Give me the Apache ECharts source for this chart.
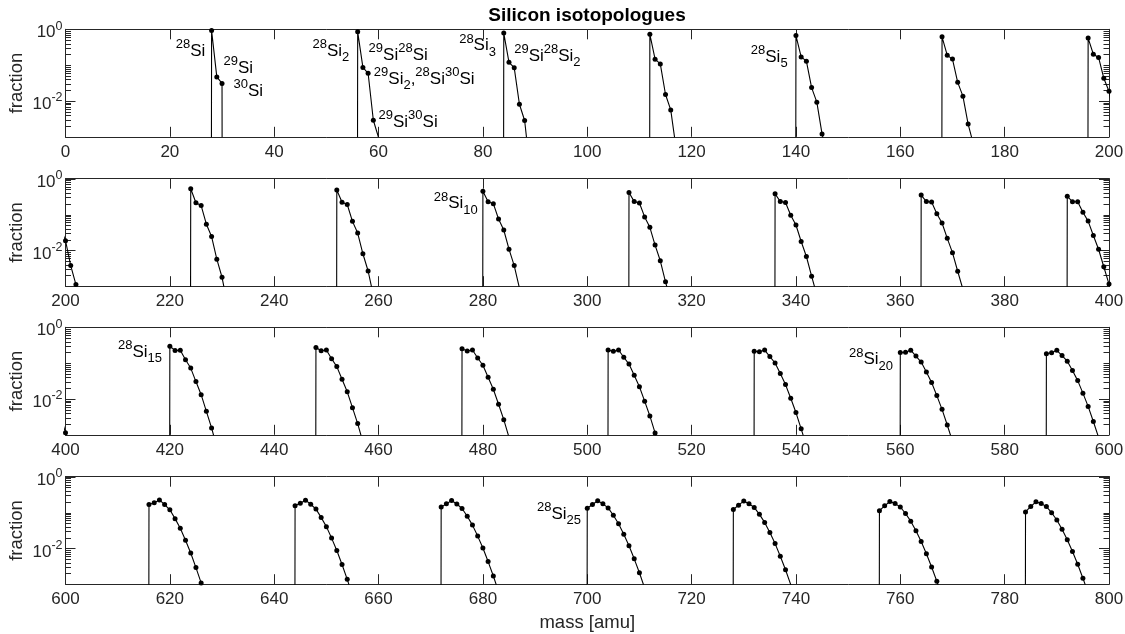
<!DOCTYPE html>
<html>
<head>
<meta charset="utf-8">
<script src="https://cdn.jsdelivr.net/npm/echarts@6/dist/echarts.min.js"></script>
<style>
html,body{margin:0;padding:0;background:#fff;}
#c{width:1125px;height:634px;}
</style>
</head>
<body>
<div id="c"></div>
<script>
// ---------------- data ----------------
// fraction of each isotopologue of Si_n, starting at mass 28*n and stepping 1 amu
const si1  = [0.9222, 0.04685, 0.03092];
const si2  = [0.8505, 0.08641, 0.05923, 0.002897, 0.000956];
const si3  = [0.7844, 0.1195, 0.08497, 0.008118, 0.002849, 0.000134];
const si4  = [0.7234, 0.1470, 0.1082, 0.01516, 0.005635, 0.000508];
const si5  = [0.6671, 0.1694, 0.1290, 0.02360, 0.009253, 0.001202, 0.000310];
const si6  = [0.6152, 0.1875, 0.1476, 0.03305, 0.01363, 0.002271, 0.000629];
const si7  = [0.5674, 0.2018, 0.1639, 0.04319, 0.01868, 0.003755, 0.001107, 0.000170];
const si8  = [0.5233, 0.2127, 0.1782, 0.05375, 0.02432, 0.005674, 0.001775, 0.000325];
const si9  = [0.4826, 0.2206, 0.1904, 0.06449, 0.03045, 0.008034, 0.002655, 0.000558];
const si10 = [0.4450, 0.2261, 0.2009, 0.07522, 0.03700, 0.01083, 0.003766, 0.000887];
const si11 = [0.4104, 0.2293, 0.2096, 0.08577, 0.04385, 0.01405, 0.005125, 0.001330, 0.000377];
const si12 = [0.3785, 0.2307, 0.2168, 0.09601, 0.05094, 0.01766, 0.006740, 0.001901, 0.000569];
const si13 = [0.3491, 0.2305, 0.2224, 0.1058, 0.05818, 0.02164, 0.008619, 0.002615, 0.000822];
const si14 = [0.3219, 0.2290, 0.2267, 0.1152, 0.06549, 0.02596, 0.01076, 0.003484, 0.001147, 0.000311];
const si15 = [0.2969, 0.2262, 0.2298, 0.1239, 0.07280, 0.03057, 0.01317, 0.004520, 0.001554, 0.000449];
const si16 = [0.2738, 0.2225, 0.2317, 0.1320, 0.08005, 0.03543, 0.01583, 0.005730, 0.002052, 0.000626];
const si17 = [0.2525, 0.2181, 0.2325, 0.1395, 0.08717, 0.04051, 0.01873, 0.007122, 0.002650, 0.000851];
const si18 = [0.2329, 0.2129, 0.2325, 0.1463, 0.09412, 0.04576, 0.02187, 0.008698, 0.003357, 0.001129, 0.000367];
const si19 = [0.2148, 0.2073, 0.2316, 0.1524, 0.1008, 0.05113, 0.02522, 0.01046, 0.004179, 0.001468, 0.000495];
const si20 = [0.1981, 0.2012, 0.2299, 0.1578, 0.1073, 0.05659, 0.02877, 0.01241, 0.005124, 0.001873, 0.000654];
const si21 = [0.1827, 0.1949, 0.2276, 0.1625, 0.1135, 0.06209, 0.03250, 0.01454, 0.006196, 0.002351, 0.000850];
const si22 = [0.1684, 0.1883, 0.2247, 0.1666, 0.1193, 0.06760, 0.03639, 0.01685, 0.007401, 0.002908, 0.001085, 0.000370];
const si23 = [0.1553, 0.1815, 0.2212, 0.1700, 0.1248, 0.07309, 0.04042, 0.01934, 0.008740, 0.003549, 0.001366, 0.000482];
const si24 = [0.1433, 0.1747, 0.2173, 0.1727, 0.1299, 0.07850, 0.04456, 0.02199, 0.01022, 0.004281, 0.001696, 0.000619];
const si25 = [0.1321, 0.1678, 0.2130, 0.1749, 0.1346, 0.08382, 0.04878, 0.02479, 0.01183, 0.005106, 0.002081, 0.000782];
const si26 = [0.1218, 0.1609, 0.2084, 0.1764, 0.1389, 0.08901, 0.05308, 0.02774, 0.01358, 0.006030, 0.002524, 0.000977];
const si27 = [0.1124, 0.1541, 0.2035, 0.1774, 0.1428, 0.09405, 0.05741, 0.03082, 0.01546, 0.007055, 0.003030, 0.001206, 0.000454];
const si28 = [0.1036, 0.1474, 0.1984, 0.1779, 0.1463, 0.09891, 0.06177, 0.03402, 0.01748, 0.008184, 0.003603, 0.001472, 0.000569];

const clusters = [si1, si2, si3, si4, si5, si6, si7, si8, si9, si10, si11, si12, si13, si14,
                  si15, si16, si17, si18, si19, si20, si21, si22, si23, si24, si25, si26, si27, si28];
const SI28_MASS = 28;          // nominal mass of 28Si, start of each cluster
const EMPTY = 1e-100;          // zero abundance (a log axis cannot show 0)

const panelRanges = [[0, 200], [200, 400], [400, 600], [600, 800]];
const xTickStep = 20;
const yRange = [0.001, 1];
const yMajorTicks = [0.01, 1];
const yMinorTicks = [0.002, 0.003, 0.004, 0.005, 0.006, 0.007, 0.008, 0.009,
                     0.02, 0.03, 0.04, 0.05, 0.06, 0.07, 0.08, 0.09,
                     0.1, 0.2, 0.3, 0.4, 0.5, 0.6, 0.7, 0.8, 0.9];
const yTickLabels = { '0': '{m|10}{sup|0}', '-2': '{m|10}{sup|-2}' };

const annotations = [
  { panel: 0, mass: 26.9,  fraction: 0.25,   side: 'left',  text: '{sup|28}{m|Si}' },
  { panel: 0, mass: 30.2,  fraction: 0.083,  side: 'right', text: '{sup|29}{m|Si}' },
  { panel: 0, mass: 32.1,  fraction: 0.019,  side: 'right', text: '{sup|30}{m|Si}' },
  { panel: 0, mass: 54.5,  fraction: 0.25,   side: 'left',  text: '{sup|28}{m|Si}{sub|2}' },
  { panel: 0, mass: 58.0,  fraction: 0.19,   side: 'right', text: '{sup|29}{m|Si}{sup|28}{m|Si}' },
  { panel: 0, mass: 59.0,  fraction: 0.040,  side: 'right', text: '{sup|29}{m|Si}{sub|2}{m|,}{sup|28}{m|Si}{sup|30}{m|Si}' },
  { panel: 0, mass: 59.9,  fraction: 0.0026, side: 'right', text: '{sup|29}{m|Si}{sup|30}{m|Si}' },
  { panel: 0, mass: 82.6,  fraction: 0.35,   side: 'left',  text: '{sup|28}{m|Si}{sub|3}' },
  { panel: 0, mass: 85.9,  fraction: 0.18,   side: 'right', text: '{sup|29}{m|Si}{sup|28}{m|Si}{sub|2}' },
  { panel: 0, mass: 138.5, fraction: 0.17,   side: 'left',  text: '{sup|28}{m|Si}{sub|5}' },
  { panel: 1, mass: 279.1, fraction: 0.20,   side: 'left',  text: '{sup|28}{m|Si}{sub|10}' },
  { panel: 2, mass: 418.6, fraction: 0.20,   side: 'left',  text: '{sup|28}{m|Si}{sub|15}' },
  { panel: 2, mass: 558.7, fraction: 0.125,  side: 'left',  text: '{sup|28}{m|Si}{sub|20}' },
  { panel: 3, mass: 698.9, fraction: 0.092,  side: 'left',  text: '{sup|28}{m|Si}{sub|25}' }
];

// ---------------- layout / style ----------------
const FONT = '"Liberation Sans", Arial, Helvetica, sans-serif';
const AX = '#262626';
const gridTops = [29.3, 178.7, 327.3, 476.7];
const GRID_LEFT = 65.5, GRID_WIDTH = 1043.5, GRID_HEIGHT = 107.5;

const richText = {
  m:   { fontSize: 17, lineHeight: 26, verticalAlign: 'middle', fontFamily: FONT, color: '#000' },
  sup: { fontSize: 13, lineHeight: 13, verticalAlign: 'top', fontFamily: FONT, color: '#000' },
  sub: { fontSize: 13, lineHeight: 13, verticalAlign: 'bottom', fontFamily: FONT, color: '#000' }
};
const richTick = {
  m:   { fontSize: 17, lineHeight: 26, verticalAlign: 'middle', fontFamily: FONT, color: AX },
  sup: { fontSize: 12.5, lineHeight: 12, verticalAlign: 'top', fontFamily: FONT, color: AX }
};

function isotopologuePoints(lo, hi) {
  const pts = [];
  clusters.forEach((vals, i) => {
    const start = SI28_MASS * (i + 1);
    const end = start + vals.length;
    if (end < lo - 2 || start > hi + 2) return;
    pts.push([start - 1, EMPTY]);
    vals.forEach((v, k) => pts.push([start + k, v]));
    pts.push([end, EMPTY]);
  });
  return pts;
}

const grids = [], xAxes = [], yAxes = [], series = [];
panelRanges.forEach(([lo, hi], g) => {
  grids.push({ left: GRID_LEFT, width: GRID_WIDTH, top: gridTops[g], height: GRID_HEIGHT,
               outerBoundsMode: 'none', containLabel: false });
  const axLine = { show: true, onZero: false, lineStyle: { color: AX, width: 1 } };
  xAxes.push({
    type: 'value', gridIndex: g, min: lo, max: hi, interval: xTickStep, position: 'bottom',
    axisLine: axLine,
    axisTick: { show: true, inside: true, length: 10, lineStyle: { color: AX, width: 1 } },
    axisLabel: { show: true, color: AX, fontSize: 17, fontFamily: FONT, margin: 7 },
    splitLine: { show: false },
    name: g === 3 ? 'mass [amu]' : '', nameLocation: 'middle', nameGap: 29, nameMoveOverlap: false,
    nameTextStyle: { color: AX, fontSize: 18.5, fontFamily: FONT }
  });
  xAxes.push({
    type: 'value', gridIndex: g, min: lo, max: hi, interval: xTickStep, position: 'top',
    axisLine: axLine,
    axisTick: { show: true, inside: true, length: 10, lineStyle: { color: AX, width: 1 } },
    axisLabel: { show: false }, splitLine: { show: false }
  });
  yAxes.push({
    type: 'log', logBase: 10, gridIndex: g, min: yRange[0], max: yRange[1], position: 'left',
    axisLine: axLine, axisTick: { show: false }, minorTick: { show: false },
    splitLine: { show: false }, minorSplitLine: { show: false },
    axisLabel: {
      show: true, margin: 3, padding: [7, 0, 0, 0], rich: richTick,
      formatter: (v) => {
        const e = Math.log10(v), r = Math.round(e);
        if (Math.abs(e - r) > 1e-6) return '';
        return yTickLabels[String(r)] || '';
      }
    },
    name: 'fraction', nameLocation: 'middle', nameGap: 39, nameRotate: 90, nameMoveOverlap: false,
    nameTextStyle: { color: AX, fontSize: 18.5, fontFamily: FONT }
  });
  yAxes.push({
    type: 'log', logBase: 10, gridIndex: g, min: yRange[0], max: yRange[1], position: 'right',
    axisLine: axLine, axisTick: { show: false }, axisLabel: { show: false },
    splitLine: { show: false }
  });
  series.push({
    type: 'line', xAxisIndex: 2 * g, yAxisIndex: 2 * g,
    data: isotopologuePoints(lo, hi),
    clip: true, showSymbol: true, showAllSymbol: true,
    symbol: 'circle', symbolSize: 5,
    itemStyle: { color: '#000' },
    lineStyle: { color: '#000', width: 1.1 },
    emphasis: { disabled: true }, animation: false, z: 3
  });
  series.push({
    type: 'scatter', xAxisIndex: 2 * g, yAxisIndex: 2 * g,
    symbol: 'circle', symbolSize: 1, itemStyle: { color: 'rgba(0,0,0,0)' },
    silent: true, animation: false, z: 5, clip: false,
    emphasis: { disabled: true },
    label: { show: true, distance: 0, rich: richText, color: '#000', opacity: 1 },
    data: annotations.filter(a => a.panel === g).map(a => ({
      value: [a.mass, a.fraction],
      label: { show: true, position: a.side, formatter: a.text }
    }))
  });
});

const chart = echarts.init(document.getElementById('c'), null, { renderer: 'canvas' });
chart.setOption({
  animation: false,
  backgroundColor: '#fff',
  grid: grids, xAxis: xAxes, yAxis: yAxes, series: series
});

// log-axis tick marks (major + minor, both sides), placed with the axes' own scales
const gfx = [{
  type: 'text', x: 587, y: 16, silent: true,
  style: { text: 'Silicon isotopologues', align: 'center', verticalAlign: 'middle',
           font: 'bold 19px ' + FONT, fill: '#000' }
}];
panelRanges.forEach(([lo, hi], g) => {
  const xl = chart.convertToPixel({ xAxisIndex: 2 * g }, lo);
  const xr = chart.convertToPixel({ xAxisIndex: 2 * g }, hi);
  const add = (vals, len) => vals.forEach(v => {
    const y = Math.round(chart.convertToPixel({ yAxisIndex: 2 * g }, v)) + 0.5;
    gfx.push({ type: 'line', silent: true, shape: { x1: xl, y1: y, x2: xl + len, y2: y },
               style: { stroke: AX, lineWidth: 1 } });
    gfx.push({ type: 'line', silent: true, shape: { x1: xr - len, y1: y, x2: xr, y2: y },
               style: { stroke: AX, lineWidth: 1 } });
  });
  add(yMajorTicks, 10);
  add(yMinorTicks, 5.5);
});
chart.setOption({ graphic: gfx });
</script>
</body>
</html>
